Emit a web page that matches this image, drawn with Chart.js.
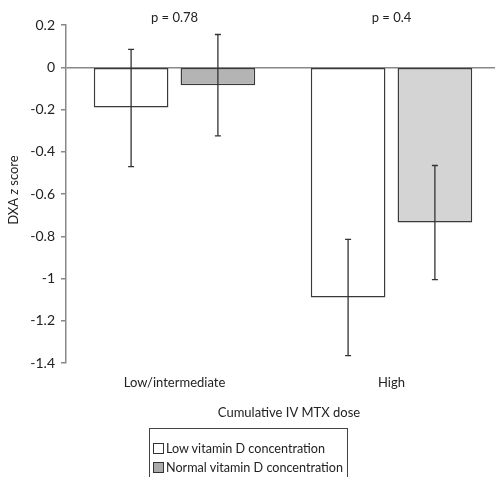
<!DOCTYPE html>
<html>
<head>
<meta charset="utf-8">
<script src="https://cdn.jsdelivr.net/npm/chart.js@4/dist/chart.umd.min.js"></script>
<style>
  body { margin: 0; background: #fff; font-family: "Lato", "Open Sans", sans-serif; }
  #wrap { position: relative; width: 495px; height: 477px; overflow: hidden; }
  #legend {
    position: absolute; left: 149px; top: 428px; width: 199px; height: 60px;
    border: 1px solid #444; box-sizing: border-box; padding: 10px 0 0 3px;
    font-size: 12.6px; color: #222; line-height: 19px; white-space: nowrap;
  }
  #legend span.sw { display: inline-block; width: 9px; height: 9px; border: 1px solid #333; margin-right: 2px; vertical-align: -1px; }
</style>
</head>
<body>
<div id="wrap">
  <canvas id="chart" width="500" height="477"></canvas>
  <div id="legend"></div>
</div>
<script>
// data
const categories = ["Low/intermediate", "High"];
const seriesNames = ["Low vitamin D concentration", "Normal vitamin D concentration"];
const lowVitD = [-0.19, -1.09];
const normalVitD = [-0.085, -0.735];
const lowVitDErrTop = [0.085, -0.815];
const lowVitDErrBottom = [-0.47, -1.365];
const normalVitDErrTop = [0.155, -0.465];
const normalVitDErrBottom = [-0.325, -1.005];
const pValues = ["p = 0.78", "p = 0.4"];
const yTicks = [0.2, 0, -0.2, -0.4, -0.6, -0.8, -1, -1.2, -1.4];

const errTops = [lowVitDErrTop, normalVitDErrTop];
const errBottoms = [lowVitDErrBottom, normalVitDErrBottom];

const FONT = "Lato, 'Open Sans', sans-serif";

// error bars drawn through the scales
const errorBars = {
  id: "errorBars",
  afterDatasetsDraw(chart) {
    const ctx = chart.ctx;
    const y = chart.scales.y;
    ctx.save();
    ctx.strokeStyle = "#333";
    ctx.lineWidth = 1.3;
    chart.data.datasets.forEach((ds, i) => {
      chart.getDatasetMeta(i).data.forEach((bar, j) => {
        const top = y.getPixelForValue(errTops[i][j]);
        const bot = y.getPixelForValue(errBottoms[i][j]);
        ctx.beginPath();
        ctx.moveTo(bar.x, top); ctx.lineTo(bar.x, bot);
        ctx.moveTo(bar.x - 3, top); ctx.lineTo(bar.x + 3, top);
        ctx.moveTo(bar.x - 3, bot); ctx.lineTo(bar.x + 3, bot);
        ctx.stroke();
      });
    });
    ctx.restore();
  }
};

// p values, axis titles
const extraText = {
  id: "extraText",
  afterDraw(chart) {
    const ctx = chart.ctx;
    const x = chart.scales.x;
    ctx.save();
    ctx.fillStyle = "#222";
    ctx.font = "13px " + FONT;
    ctx.textAlign = "center";
    ctx.textBaseline = "middle";
    pValues.forEach((p, i) => {
      ctx.fillText(p, x.getPixelForValue(i), 18);
    });
    ctx.fillText("Cumulative IV MTX dose", 289, 413);

    // y title with italic z
    ctx.translate(14, 190);
    ctx.rotate(-Math.PI / 2);
    const a = "DXA ", b = "z", c = " score";
    ctx.font = "13px " + FONT;
    const wa = ctx.measureText(a).width, wc = ctx.measureText(c).width;
    ctx.font = "italic 13px " + FONT;
    const wb = ctx.measureText(b).width;
    let start = -(wa + wb + wc) / 2;
    ctx.textAlign = "left";
    ctx.font = "13px " + FONT;
    ctx.fillText(a, start, 0);
    ctx.font = "italic 13px " + FONT;
    ctx.fillText(b, start + wa, 0);
    ctx.font = "13px " + FONT;
    ctx.fillText(c, start + wa + wb, 0);
    ctx.restore();
  }
};

new Chart(document.getElementById("chart"), {
  type: "bar",
  data: {
    labels: categories,
    datasets: [
      {
        label: seriesNames[0],
        data: lowVitD,
        backgroundColor: "#ffffff",
        borderColor: "#3a3a3a",
        borderWidth: 1.5,
        borderSkipped: false
      },
      {
        label: seriesNames[1],
        data: normalVitD,
        backgroundColor: ["#b4b4b4", "#d4d4d4"],
        borderColor: "#3a3a3a",
        borderWidth: 1.5,
        borderSkipped: false
      }
    ]
  },
  options: {
    responsive: false,
    animation: false,
    devicePixelRatio: 1,
    layout: { padding: { top: 25, right: 0, left: 0, bottom: 0 } },
    categoryPercentage: 0.8,
    barPercentage: 0.86,
    plugins: { legend: { display: false }, tooltip: { enabled: false } },
    scales: {
      x: {
        grid: { display: false },
        border: { display: false },
        ticks: { color: "#222", font: { size: 13, family: FONT }, padding: 4, maxRotation: 0 },
        afterFit(scale) { scale.height = 114; }
      },
      y: {
        min: -1.4,
        max: 0.2,
        afterBuildTicks(scale) { scale.ticks = yTicks.map(v => ({ value: v })); },
        ticks: {
          color: "#222",
          font: { size: 14, family: FONT },
          padding: 6,
          callback: v => String(Math.round(v * 10) / 10)
        },
        grid: {
          drawOnChartArea: true,
          color: c => (c.tick && c.tick.value === 0 ? "#888" : "rgba(0,0,0,0)"),
          tickColor: "#888",
          tickLength: 5,
          lineWidth: 1.5
        },
        border: { display: true, color: "#888", width: 1.5 },
        afterFit(scale) { scale.width = 66; }
      }
    }
  },
  plugins: [errorBars, extraText]
});

// legend box
const swatches = ["#ffffff", "#aaaaaa"];
document.getElementById("legend").innerHTML = seriesNames
  .map((n, i) => `<div><span class="sw" style="background:${swatches[i]}"></span>${n}</div>`)
  .join("");
</script>
</body>
</html>
